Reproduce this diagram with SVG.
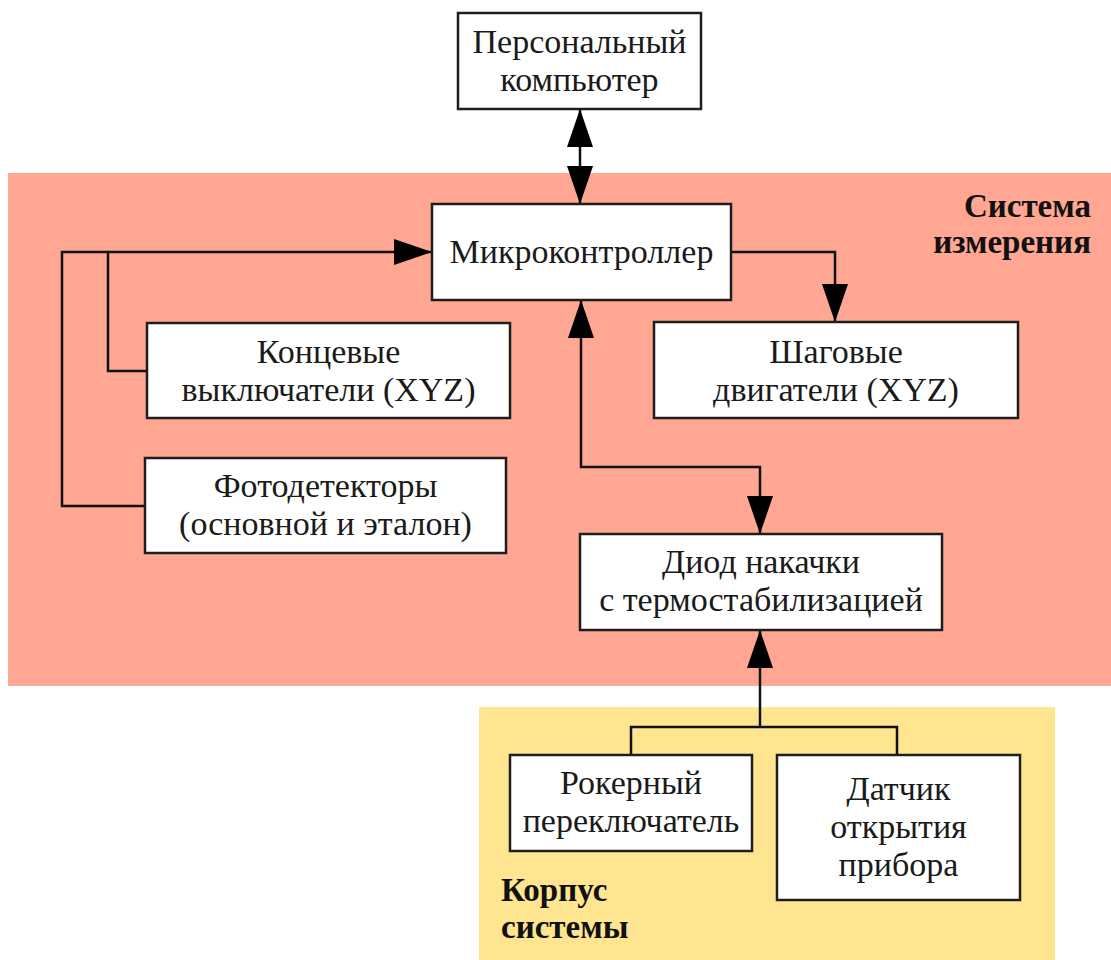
<svg xmlns="http://www.w3.org/2000/svg" width="1111" height="960" viewBox="0 0 1111 960">
  <style>
    .box { fill: #ffffff; stroke: #1e1e1e; stroke-width: 2.5; }
    .lbl { font-family: "Liberation Serif", "Times New Roman", serif; font-size: 34px; fill: #1a1a1a; text-anchor: middle; }
    .zone { font-family: "Liberation Serif", "Times New Roman", serif; font-size: 33px; font-weight: bold; fill: #111111; }
    .wire { fill: none; stroke: #111111; stroke-width: 2.5; }
  </style>
  <defs>
    <marker id="arrow" viewBox="0 0 38 26" refX="38" refY="13" markerWidth="38" markerHeight="26" markerUnits="userSpaceOnUse" orient="auto-start-reverse">
      <path d="M0,0 L38,13 L0,26 z" fill="#000000"/>
    </marker>
  </defs>

  <rect width="1111" height="960" fill="#ffffff"/>

  <!-- enclosing zones -->
  <g id="zone-measure">
    <rect x="8" y="173" width="1103" height="513" fill="#ffa792"/>
    <text class="zone" x="1091" y="217" text-anchor="end">Система</text>
    <text class="zone" x="1091" y="253" text-anchor="end">измерения</text>
  </g>
  <g id="zone-case">
    <rect x="479" y="707" width="576" height="253" fill="#ffe590"/>
    <text class="zone" x="501" y="901">Корпус</text>
    <text class="zone" x="501" y="938">системы</text>
  </g>

  <!-- connectors -->
  <g id="connectors">
    <path class="wire" d="M580,109 V204" marker-start="url(#arrow)" marker-end="url(#arrow)"/>
    <path class="wire" d="M147,371 H108 V252 H432" marker-end="url(#arrow)"/>
    <path class="wire" d="M145,506 H62 V252 H108"/>
    <path class="wire" d="M731,252 H835 V322" marker-end="url(#arrow)"/>
    <path class="wire" d="M581,300 V467 H760 V534" marker-start="url(#arrow)" marker-end="url(#arrow)"/>
    <path class="wire" d="M760,727 V630" marker-end="url(#arrow)"/>
    <path class="wire" d="M631,755 V727 H897 V755"/>
  </g>

  <!-- nodes -->
  <g id="pc">
    <rect class="box" x="458" y="13" width="243" height="96"/>
    <text class="lbl" x="579.5" y="53">Персональный</text>
    <text class="lbl" x="579.5" y="91">компьютер</text>
  </g>
  <g id="mcu">
    <rect class="box" x="432" y="204" width="299" height="96"/>
    <text class="lbl" x="581.5" y="263">Микроконтроллер</text>
  </g>
  <g id="limit-switches">
    <rect class="box" x="147" y="323" width="363" height="95"/>
    <text class="lbl" x="328.5" y="363">Концевые</text>
    <text class="lbl" x="328.5" y="401">выключатели (XYZ)</text>
  </g>
  <g id="photodetectors">
    <rect class="box" x="145" y="458" width="361" height="95"/>
    <text class="lbl" x="325.5" y="497">Фотодетекторы</text>
    <text class="lbl" x="325.5" y="535">(основной и эталон)</text>
  </g>
  <g id="steppers">
    <rect class="box" x="654" y="322" width="364" height="96"/>
    <text class="lbl" x="836" y="363">Шаговые</text>
    <text class="lbl" x="836" y="401">двигатели (XYZ)</text>
  </g>
  <g id="pump-diode">
    <rect class="box" x="580" y="534" width="362" height="96"/>
    <text class="lbl" x="761" y="573">Диод накачки</text>
    <text class="lbl" x="761" y="611">с термостабилизацией</text>
  </g>
  <g id="rocker-switch">
    <rect class="box" x="510" y="755" width="242" height="96"/>
    <text class="lbl" x="631" y="794">Рокерный</text>
    <text class="lbl" x="631" y="832">переключатель</text>
  </g>
  <g id="lid-sensor">
    <rect class="box" x="777" y="755" width="243" height="145"/>
    <text class="lbl" x="898.5" y="800">Датчик</text>
    <text class="lbl" x="898.5" y="838">открытия</text>
    <text class="lbl" x="898.5" y="876">прибора</text>
  </g>
</svg>
